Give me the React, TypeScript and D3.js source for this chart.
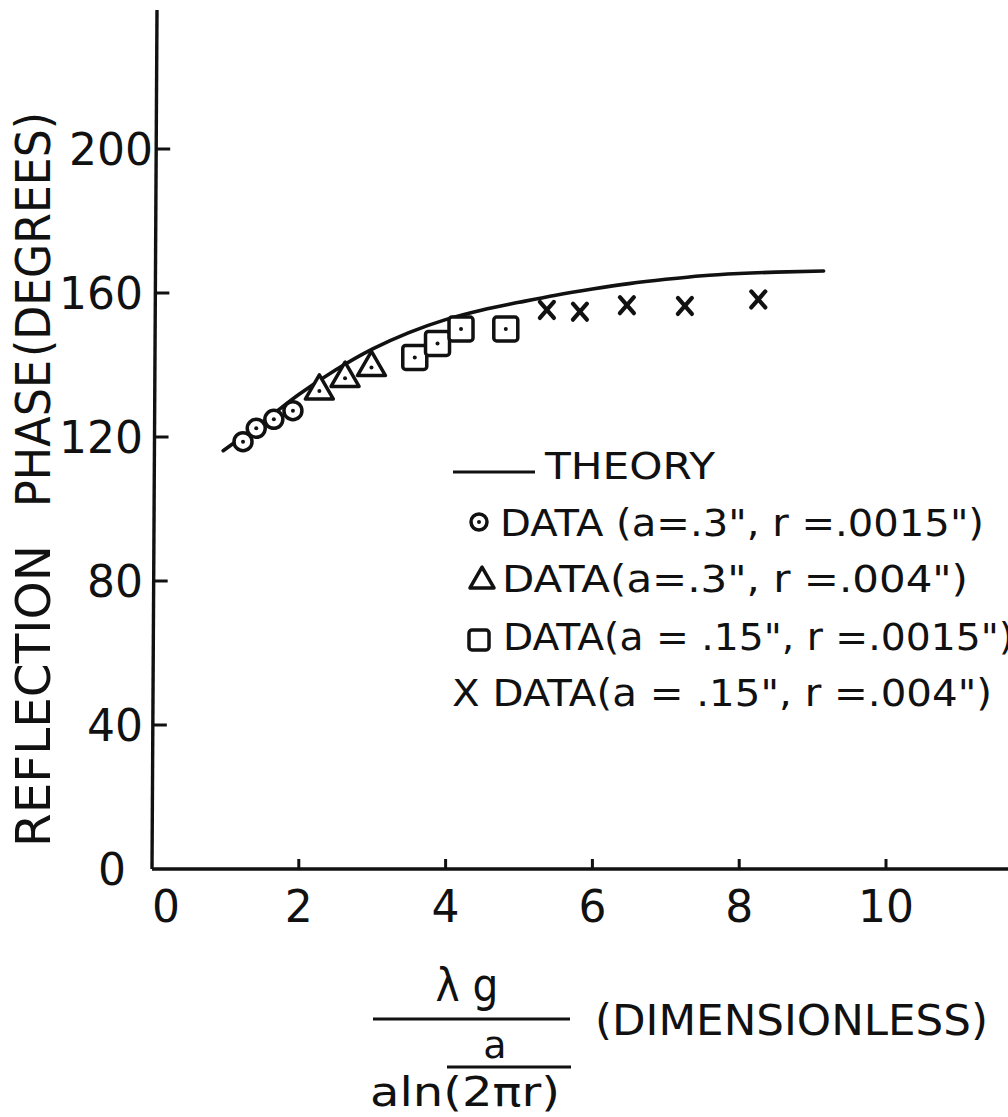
import React from 'react';
import * as d3 from 'd3';

// ---------- data ----------
const xTicks = [0, 2, 4, 6, 8, 10];
const xTickLabels = ['0', '2', '4', '6', '8', '10'];
const yTicks = [0, 40, 80, 120, 160, 200];
const yTickLabels = ['0', '40', '80', '120', '160', '200'];

const theoryX = [0.97, 1.2, 1.6, 2.0, 2.5, 3.0, 3.5, 4.0, 4.5, 5.0, 5.5, 6.0, 6.5, 7.0, 7.5, 8.0, 8.5, 9.15];
const theoryY = [116.2, 119.6, 125.6, 131.8, 138.6, 144.4, 149.0, 152.6, 155.3, 157.4, 159.4, 161.1, 162.6, 163.8, 164.8, 165.4, 165.8, 166.1];

const circleX = [1.24, 1.42, 1.66, 1.92];
const circleY = [118.7, 122.4, 124.9, 127.3];
const triangleX = [2.28, 2.63, 2.99];
const triangleY = [132.8, 136.3, 139.3];
const squareX = [3.58, 3.89, 4.21, 4.82];
const squareY = [142.1, 146.0, 150.0, 150.0];
const crossX = [5.38, 5.83, 6.47, 7.26, 8.26];
const crossY = [155.3, 154.8, 156.6, 156.4, 158.2];

const legendTheory = 'THEORY';
const legendCircle = 'DATA (a=.3", r =.0015")';
const legendTriangle = 'DATA(a=.3", r =.004")';
const legendSquare = 'DATA(a = .15", r =.0015")';
const legendCross = 'X DATA(a = .15", r =.004")';

const yLabelParts = ['REFLECTION', 'PHASE', '(DEGREES)'];
const xLabelNum = 'λ g';
const xLabelMid = 'a';
const xLabelDen = 'aln(2πr)';
const xLabelUnit = '(DIMENSIONLESS)';

const FONT = '"DejaVu Sans", "Liberation Sans", sans-serif';
const INK = '#111';

export default function App() {
  const x = d3.scaleLinear().domain([0, 10]).range([152, 886]);
  const y = d3.scaleLinear().domain([0, 200]).range([869, 149]);
  const yTop = 10;
  const axisTilt = 5; // px the hand-drawn y axis leans right at its top
  const axisXAt = (py: number) => x(0) + (axisTilt * (y(0) - py)) / (y(0) - yTop);

  const theory = theoryX.map((v, i) => [v, theoryY[i]] as [number, number]);
  const line = d3
    .line<[number, number]>()
    .x((d) => x(d[0]))
    .y((d) => y(d[1]))
    .curve(d3.curveMonotoneX);

  const sw = 3.5;

  const circle = (cx: number, cy: number, r: number, key: string, dot = true) => (
    <g key={key}>
      <circle cx={cx} cy={cy} r={r} fill="#fff" stroke={INK} strokeWidth={sw} />
      {dot && <circle cx={cx} cy={cy} r={2} fill={INK} />}
    </g>
  );
  const triangle = (cx: number, cy: number, s: number, key: string, dot = true) => {
    const h = (s * Math.sqrt(3)) / 2;
    const pts = [
      [cx, cy - (2 * h) / 3],
      [cx - s / 2, cy + h / 3],
      [cx + s / 2, cy + h / 3],
    ];
    return (
      <g key={key}>
        <polygon points={pts.map((p) => p.join(',')).join(' ')} fill="#fff" stroke={INK} strokeWidth={sw} strokeLinejoin="round" />
        {dot && <circle cx={cx} cy={cy} r={2} fill={INK} />}
      </g>
    );
  };
  const square = (cx: number, cy: number, s: number, key: string, dot = true) => (
    <g key={key}>
      <rect x={cx - s / 2} y={cy - s / 2} width={s} height={s} rx={3} fill="#fff" stroke={INK} strokeWidth={sw} />
      {dot && <circle cx={cx} cy={cy} r={2} fill={INK} />}
    </g>
  );
  const cross = (cx: number, cy: number, key: string) => (
    <g key={key} stroke={INK} strokeWidth={4.2} strokeLinecap="round">
      <line x1={cx - 7} y1={cy - 8} x2={cx + 7} y2={cy + 8} />
      <line x1={cx + 7} y1={cy - 8} x2={cx - 7} y2={cy + 8} />
    </g>
  );

  return (
    <svg
      width={1008}
      height={1117}
      style={{ position: 'absolute', left: 0, top: 0, background: '#fff' }}
      fontFamily={FONT}
      fill={INK}
    >
      <rect x={0} y={0} width={1008} height={1117} fill="#fff" />

      {/* axes */}
      <line x1={x(0)} y1={y(0)} x2={x(0) + axisTilt} y2={yTop} stroke={INK} strokeWidth={3.4} />
      <line x1={x(0)} y1={y(0)} x2={1008} y2={y(0)} stroke={INK} strokeWidth={3.4} />

      {yTicks.map((t, i) => {
        const py = y(t);
        const ax = axisXAt(py);
        return (
          <g key={'yt' + t}>
            {t !== 0 && <line x1={ax} y1={py} x2={ax + 14} y2={py} stroke={INK} strokeWidth={3} />}
            <text
              x={t === 0 ? 126 : t === 200 ? 153 : 143}
              y={py}
              dy="0.36em"
              textAnchor="end"
              fontSize={44}
            >
              {yTickLabels[i]}
            </text>
          </g>
        );
      })}

      {xTicks.map((t, i) => {
        const px = x(t);
        return (
          <g key={'xt' + t}>
            {t !== 0 && <line x1={px} y1={y(0)} x2={px} y2={y(0) - 10} stroke={INK} strokeWidth={3} />}
            <text x={t === 0 ? 166 : px} y={922} textAnchor="middle" fontSize={44}>
              {xTickLabels[i]}
            </text>
          </g>
        );
      })}

      {/* y axis title */}
      <g>
        <text transform="translate(50,847) rotate(-90)" fontSize={48} textLength={302} lengthAdjust="spacingAndGlyphs">
          {yLabelParts[0]}
        </text>
        <text transform="translate(50,507) rotate(-90)" fontSize={48} textLength={147} lengthAdjust="spacingAndGlyphs">
          {yLabelParts[1]}
        </text>
        <text transform="translate(50,357) rotate(-90)" fontSize={48} textLength={245} lengthAdjust="spacingAndGlyphs">
          {yLabelParts[2]}
        </text>
      </g>

      {/* theory curve */}
      <path d={line(theory) || ''} fill="none" stroke={INK} strokeWidth={3.6} strokeLinecap="round" />

      {/* data markers */}
      {circleX.map((v, i) => circle(x(v), y(circleY[i]), 9, 'c' + i))}
      {triangleX.map((v, i) => triangle(x(v), y(triangleY[i]), 28, 't' + i))}
      {squareX.map((v, i) => square(x(v), y(squareY[i]), 24, 's' + i))}
      {crossX.map((v, i) => cross(x(v), y(crossY[i]), 'x' + i))}

      {/* legend */}
      <g fontSize={37}>
        <line x1={453} y1={472} x2={535} y2={472} stroke={INK} strokeWidth={3} />
        <text x={545} y={479} textLength={170} lengthAdjust="spacingAndGlyphs">{legendTheory}</text>

        {circle(479, 522, 8, 'lc')}
        <text x={500} y={536} textLength={484} lengthAdjust="spacingAndGlyphs">{legendCircle}</text>

        {triangle(482, 581, 24, 'lt', false)}
        <text x={502} y={592} textLength={466} lengthAdjust="spacingAndGlyphs">{legendTriangle}</text>

        {square(479, 640, 20, 'ls', false)}
        <text x={503} y={650} textLength={511} lengthAdjust="spacingAndGlyphs">{legendSquare}</text>

        <text x={452} y={706} textLength={540} lengthAdjust="spacingAndGlyphs">{legendCross}</text>
      </g>

      {/* x axis title (fraction) */}
      <g>
        <text x={467} y={1001} textAnchor="middle" fontSize={46} textLength={63} lengthAdjust="spacingAndGlyphs">
          {xLabelNum}
        </text>
        <line x1={373} y1={1019} x2={570} y2={1019} stroke={INK} strokeWidth={3.2} />
        <text x={495} y={1058} textAnchor="middle" fontSize={38}>
          {xLabelMid}
        </text>
        <line x1={447} y1={1067} x2={571} y2={1067} stroke={INK} strokeWidth={3.2} />
        <text x={370} y={1106} fontSize={40} textLength={190} lengthAdjust="spacingAndGlyphs">
          {xLabelDen}
        </text>
        <text x={595} y={1035} fontSize={42} textLength={393} lengthAdjust="spacingAndGlyphs">
          {xLabelUnit}
        </text>
      </g>
    </svg>
  );
}
